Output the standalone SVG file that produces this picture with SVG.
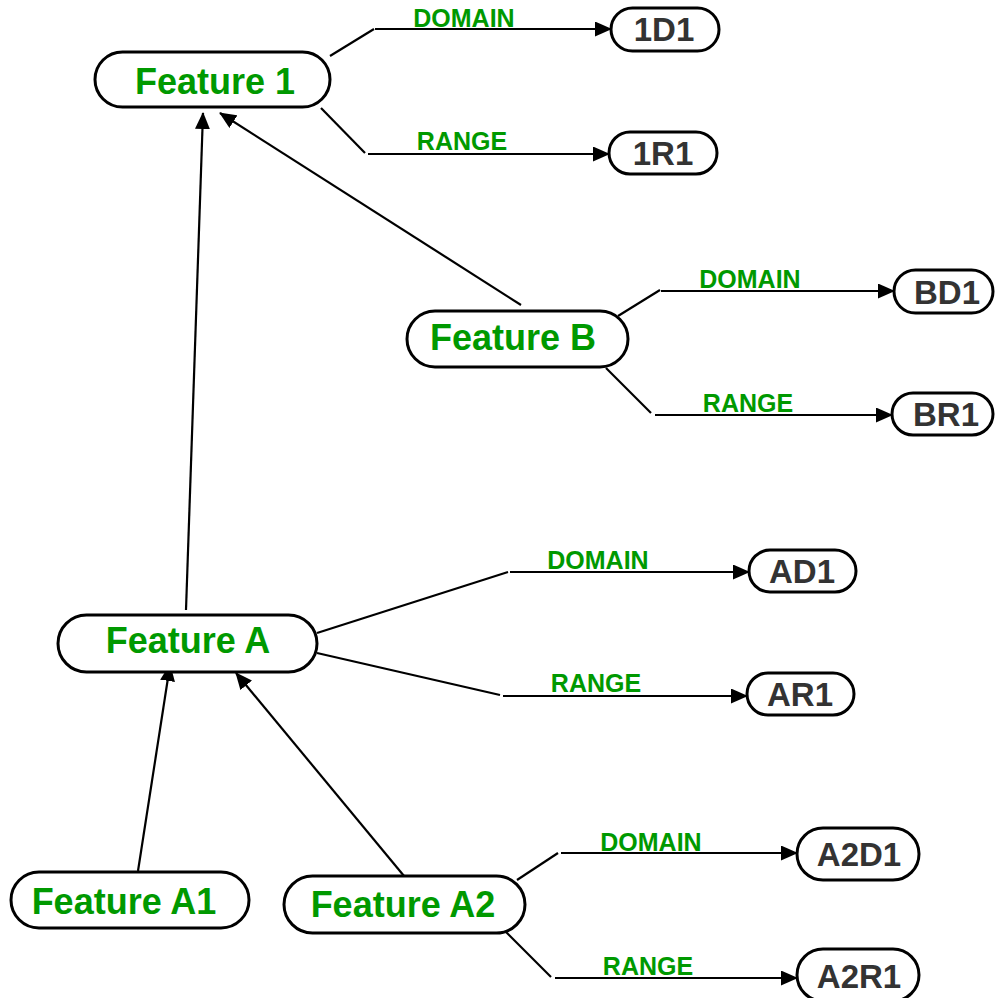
<svg xmlns="http://www.w3.org/2000/svg" width="995" height="998" viewBox="0 0 995 998">
<style>
.big{fill:#fff;stroke:#000;stroke-width:3}
.box{fill:#fff;stroke:#000;stroke-width:3}
.ft{font-family:"Liberation Sans",Arial,sans-serif;font-weight:bold;font-size:36px;fill:#009900;text-anchor:middle}
.bt{font-family:"Liberation Sans",Arial,sans-serif;font-weight:bold;font-size:33px;fill:#333;text-anchor:middle}
.lb{font-family:"Liberation Sans",Arial,sans-serif;font-weight:bold;font-size:25px;fill:#009900;text-anchor:middle}
.ln{fill:none;stroke:#000;stroke-width:2.2}
</style>
<defs>
<marker id="ah" markerUnits="userSpaceOnUse" markerWidth="17" markerHeight="15" refX="16" refY="7.5" orient="auto">
<path d="M0,0 L17,7.5 L0,15 z" fill="#000"/>
</marker>
</defs>
<rect width="995" height="998" fill="#fff"/>
<g id="connectors">
<line class="ln" x1="330" y1="56" x2="374" y2="29"/>
<line class="ln" x1="375" y1="29" x2="611" y2="29" marker-end="url(#ah)"/>
<text class="lb" x="464" y="27">DOMAIN</text>
<line class="ln" x1="321" y1="108" x2="365" y2="153"/>
<line class="ln" x1="368" y1="154" x2="609" y2="154" marker-end="url(#ah)"/>
<text class="lb" x="462" y="150">RANGE</text>
<line class="ln" x1="618" y1="316" x2="660" y2="290"/>
<line class="ln" x1="661" y1="291" x2="894" y2="291" marker-end="url(#ah)"/>
<text class="lb" x="750" y="288">DOMAIN</text>
<line class="ln" x1="606" y1="368" x2="651" y2="413"/>
<line class="ln" x1="655" y1="415" x2="892" y2="415" marker-end="url(#ah)"/>
<text class="lb" x="748" y="412">RANGE</text>
<line class="ln" x1="521" y1="305" x2="220" y2="113" marker-end="url(#ah)"/>
<line class="ln" x1="186" y1="610" x2="203" y2="113" marker-end="url(#ah)"/>
<line class="ln" x1="317" y1="633" x2="508" y2="572"/>
<line class="ln" x1="510" y1="572" x2="749" y2="572" marker-end="url(#ah)"/>
<text class="lb" x="598" y="569">DOMAIN</text>
<line class="ln" x1="317" y1="653" x2="500" y2="695"/>
<line class="ln" x1="503" y1="696" x2="747" y2="696" marker-end="url(#ah)"/>
<text class="lb" x="596" y="692">RANGE</text>
<line class="ln" x1="138" y1="871" x2="170" y2="665" marker-end="url(#ah)"/>
<line class="ln" x1="409" y1="882" x2="236" y2="673" marker-end="url(#ah)"/>
<line class="ln" x1="517" y1="880" x2="558" y2="853"/>
<line class="ln" x1="561" y1="853" x2="797" y2="853" marker-end="url(#ah)"/>
<text class="lb" x="651" y="851">DOMAIN</text>
<line class="ln" x1="506" y1="932" x2="551" y2="977"/>
<line class="ln" x1="555" y1="978" x2="797" y2="978" marker-end="url(#ah)"/>
<text class="lb" x="648" y="975">RANGE</text>
</g>
<g id="feature1">
<rect class="big" x="95" y="52" width="235" height="55" rx="27.5"/>
<text class="ft" x="215" y="94">Feature 1</text>
</g>
<g id="n1D1">
<rect class="box" x="611" y="8" width="108" height="43" rx="21.5"/>
<text class="bt" x="664" y="41">1D1</text>
</g>
<g id="n1R1">
<rect class="box" x="609" y="132" width="108" height="42" rx="21"/>
<text class="bt" x="663" y="165">1R1</text>
</g>
<g id="featureB">
<rect class="big" x="407" y="311" width="221" height="56" rx="28"/>
<text class="ft" x="513" y="350">Feature B</text>
</g>
<g id="nBD1">
<rect class="box" x="894" y="270" width="99" height="43" rx="21.5"/>
<text class="bt" x="947" y="304">BD1</text>
</g>
<g id="nBR1">
<rect class="box" x="892" y="393" width="101" height="42" rx="21"/>
<text class="bt" x="946" y="426">BR1</text>
</g>
<g id="featureA">
<rect class="big" x="58" y="615" width="259" height="57" rx="28.5"/>
<text class="ft" x="188" y="653">Feature A</text>
</g>
<g id="nAD1">
<rect class="box" x="749" y="550" width="107" height="42" rx="21"/>
<text class="bt" x="802" y="583">AD1</text>
</g>
<g id="nAR1">
<rect class="box" x="747" y="673" width="107" height="42" rx="21"/>
<text class="bt" x="800" y="706">AR1</text>
</g>
<g id="featureA1">
<rect class="big" x="11" y="872" width="238" height="56" rx="28"/>
<text class="ft" x="124" y="914">Feature A1</text>
</g>
<g id="featureA2">
<rect class="big" x="284" y="876" width="241" height="57" rx="28.5"/>
<text class="ft" x="403" y="917">Feature A2</text>
</g>
<g id="nA2D1">
<rect class="box" x="797" y="828" width="122" height="52" rx="26"/>
<text class="bt" x="859" y="866">A2D1</text>
</g>
<g id="nA2R1">
<rect class="box" x="797" y="949" width="122" height="52" rx="26"/>
<text class="bt" x="859" y="988">A2R1</text>
</g>
</svg>
